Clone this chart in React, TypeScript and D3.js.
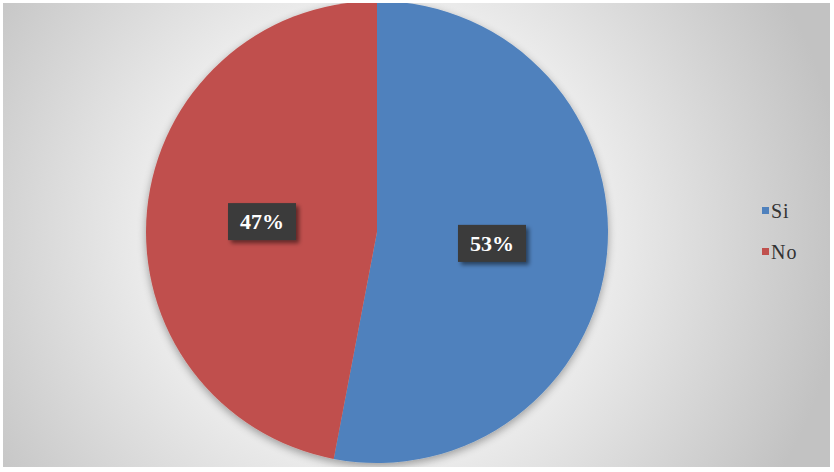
import React from "react";
import * as d3 from "d3";

const categories = ["Si", "No"];
const values = [53, 47];
const colors = ["#4F81BD", "#C0504D"];

const W = 834;
const H = 472;

const App = () => {
  const cx = 377;
  const cy = 232;
  const radius = 231;

  const pie = d3
    .pie<number>()
    .sort(null)
    .value((d) => d);
  const arcs = pie(values);
  const arc = d3.arc<d3.PieArcDatum<number>>().innerRadius(0).outerRadius(radius);

  const legendY = d3.scalePoint<string>().domain(categories).range([211, 252]);

  return (
    <div style={{ position: "absolute", left: 0, top: 0 }}>
      <svg width={W} height={H} style={{ display: "block" }}>
        <defs>
          <radialGradient id="bg" cx={cx} cy={cy} r={470} gradientUnits="userSpaceOnUse">
            <stop offset="0" stopColor="#ffffff" />
            <stop offset="0.45" stopColor="#efefef" />
            <stop offset="1" stopColor="#c2c2c2" />
          </radialGradient>
          <filter id="pieShadow" x="-10%" y="-10%" width="120%" height="125%">
            <feGaussianBlur in="SourceAlpha" stdDeviation="4" />
            <feOffset dx="0" dy="3" result="b" />
            <feComponentTransfer>
              <feFuncA type="linear" slope="0.35" />
            </feComponentTransfer>
            <feMerge>
              <feMergeNode />
              <feMergeNode in="SourceGraphic" />
            </feMerge>
          </filter>
          <filter id="boxShadow" x="-20%" y="-20%" width="150%" height="160%">
            <feGaussianBlur in="SourceAlpha" stdDeviation="2" />
            <feOffset dx="3" dy="3" />
            <feComponentTransfer>
              <feFuncA type="linear" slope="0.5" />
            </feComponentTransfer>
            <feMerge>
              <feMergeNode />
              <feMergeNode in="SourceGraphic" />
            </feMerge>
          </filter>
          <clipPath id="plotClip">
            <rect x={3} y={3} width={827} height={464} />
          </clipPath>
        </defs>
        <rect x={0} y={0} width={W} height={H} fill="#ffffff" />
        <rect x={3} y={3} width={827} height={464} fill="url(#bg)" />
        <g clipPath="url(#plotClip)">
          <g transform={`translate(${cx},${cy})`} filter="url(#pieShadow)">
            {arcs.map((a, i) => (
              <path key={categories[i]} d={arc(a) || ""} fill={colors[i]} />
            ))}
          </g>
          <g transform={`translate(${cx},${cy})`}>
            {arcs.map((a, i) => {
              const [x, y] = arc.centroid(a);
              return (
                <g key={categories[i]} transform={`translate(${x},${y})`}>
                  <rect
                    x={-34}
                    y={-18}
                    width={68}
                    height={37}
                    fill="#3a3a3a"
                    filter="url(#boxShadow)"
                  />
                  <text
                    textAnchor="middle"
                    dy="0.35em"
                    fill="#ffffff"
                    fontFamily="'Liberation Serif', 'Times New Roman', serif"
                    fontWeight="bold"
                    fontSize={22}
                  >
                    {`${values[i]}%`}
                  </text>
                </g>
              );
            })}
          </g>
        </g>
        <g>
          {categories.map((c, i) => (
            <g key={c} transform={`translate(762,${legendY(c)})`}>
              <rect x={0} y={-4} width={7} height={7} fill={colors[i]} />
              <text
                x={9}
                y={0}
                dy="0.35em"
                fill="#333333"
                fontFamily="'Liberation Serif', 'Times New Roman', serif"
                fontSize={20}
                letterSpacing={1}
              >
                {c}
              </text>
            </g>
          ))}
        </g>
      </svg>
    </div>
  );
};

export default App;
